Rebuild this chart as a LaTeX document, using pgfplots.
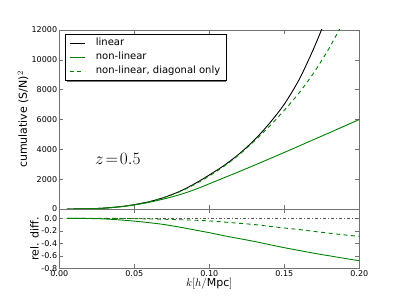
\documentclass[border=0pt]{standalone}
\usepackage[no-math]{fontspec}
\setmainfont{DejaVu Sans}
\usepackage{pgfplots}
\pgfplotsset{compat=1.18}
\definecolor{mplgreen}{rgb}{0,0.5,0}
\definecolor{framegray}{gray}{0.45}
\pgfplotsset{
  myaxis/.style={
    scale only axis, width=300pt,
    xmin=0, xmax=0.2,
    axis line style={framegray, line width=0.6pt},
    every tick/.style={framegray, line width=0.5pt},
    major tick length=4pt,
    tick align=inside,
    scaled ticks=false,
    xtick={0,0.05,0.1,0.15,0.2},
    tick label style={font=\fontsize{8}{9}\selectfont, inner sep=2pt},
    /pgf/number format/assume math mode=true,
    label style={font=\fontsize{11}{13}\selectfont},
  },
}
\begin{document}
\begin{tikzpicture}
\path[use as bounding box] (0pt,0pt) rectangle (399pt,299pt);
\begin{axis}[myaxis,
  at={(59.3pt,90pt)}, anchor=south west, height=179pt,
  ymin=0, ymax=12000,
  ytick={0,2000,4000,6000,8000,10000,12000},
  yticklabels={0,2000,4000,6000,8000,10000,12000},
  xticklabels={},
  ylabel={cumulative (S/N)$^2$},
  ylabel style={at={(axis description cs:-0.121,0.5)}, anchor=center},
  legend cell align=left,
  legend image code/.code={\draw[#1, line width=0.9pt] (0pt,0pt) -- (15pt,0pt);},
  legend style={at={(axis description cs:0.019,0.978)}, anchor=north west,
    draw=black, fill=white, line width=0.6pt,
    inner xsep=4pt, inner ysep=2pt, column sep=8.7pt, row sep=0pt,
    nodes={inner sep=2pt, text height=7pt, text depth=3pt, font=\fontsize{10}{12}\selectfont}},
]
% legend shadow (drawn first so the legend covers it)
\fill[black!55] (axis description cs:0.0257,0.9665) rectangle (axis description cs:0.5557,0.7067);
\addplot[black, line width=0.9pt, smooth] coordinates {
(0.005,0) (0.02,15) (0.03,60) (0.04,150) (0.05,290) (0.06,490) (0.07,780)
(0.08,1170) (0.09,1680) (0.10,2280) (0.11,2930) (0.12,3700) (0.13,4620)
(0.14,5730) (0.15,7030) (0.16,8700) (0.17,10850) (0.18,13300)};
\addlegendentry{linear}
\addplot[mplgreen, line width=0.9pt, smooth] coordinates {
(0.005,0) (0.02,15) (0.03,58) (0.04,140) (0.05,270) (0.06,450) (0.07,680)
(0.08,950) (0.09,1290) (0.10,1690) (0.11,2100) (0.12,2510) (0.13,2930)
(0.14,3360) (0.15,3790) (0.16,4230) (0.17,4670) (0.18,5110) (0.19,5555) (0.20,6000)};
\addlegendentry{non-linear}
\addplot[mplgreen, line width=0.9pt, dash pattern=on 4pt off 3.5pt, smooth] coordinates {
(0.005,0) (0.02,15) (0.03,60) (0.04,150) (0.05,288) (0.06,485) (0.07,770)
(0.08,1150) (0.09,1630) (0.10,2215) (0.11,2880) (0.12,3650) (0.13,4550)
(0.14,5530) (0.15,6620) (0.16,7800) (0.17,9180) (0.18,10800) (0.19,12650)};
\addlegendentry{non-linear, diagonal only}
\addplot[black, line width=0.9pt, forget plot] coordinates {(0,0) (0.2,0)};
\node[font=\fontsize{19}{22}\selectfont] at (axis cs:0.039,3350) {$z\!=\!0.5$};
\end{axis}
\begin{axis}[myaxis,
  at={(59.3pt,30.7pt)}, anchor=south west, height=59.3pt,
  ymin=-0.8, ymax=0.149,
  ytick={-0.8,-0.6,-0.4,-0.2,0},
  yticklabels={-0.8,-0.6,-0.4,-0.2,0.0},
  xticklabels={0.00,0.05,0.10,0.15,0.20},
  xlabel={$k[h/$Mpc$]$},
  xlabel style={at={(axis description cs:0.5,-0.265)}, anchor=center},
  ylabel={rel. diff.},
  ylabel style={at={(axis description cs:-0.083,0.5)}, anchor=center},
]
\addplot[black!65, line width=0.8pt, dash pattern=on 3pt off 2pt on 1pt off 2pt] coordinates {(0.005,0) (0.2,0)};
\addplot[mplgreen, line width=0.9pt, dash pattern=on 4pt off 3.5pt, smooth] coordinates {
(0.005,0) (0.03,0) (0.05,-0.005) (0.06,-0.01) (0.07,-0.015) (0.08,-0.022)
(0.09,-0.03) (0.10,-0.042) (0.11,-0.06) (0.12,-0.08) (0.13,-0.10) (0.14,-0.128)
(0.15,-0.155) (0.16,-0.18) (0.17,-0.21) (0.18,-0.238) (0.19,-0.265) (0.20,-0.29)};
\addplot[mplgreen, line width=0.9pt, smooth] coordinates {
(0.005,0) (0.02,-0.003) (0.03,-0.01) (0.04,-0.025) (0.05,-0.045) (0.06,-0.07)
(0.07,-0.10) (0.08,-0.14) (0.09,-0.185) (0.10,-0.23) (0.11,-0.28) (0.12,-0.325)
(0.13,-0.37) (0.14,-0.42) (0.15,-0.47) (0.16,-0.515) (0.17,-0.56) (0.18,-0.60)
(0.19,-0.64) (0.20,-0.68)};
\end{axis}
\end{tikzpicture}
\end{document}
